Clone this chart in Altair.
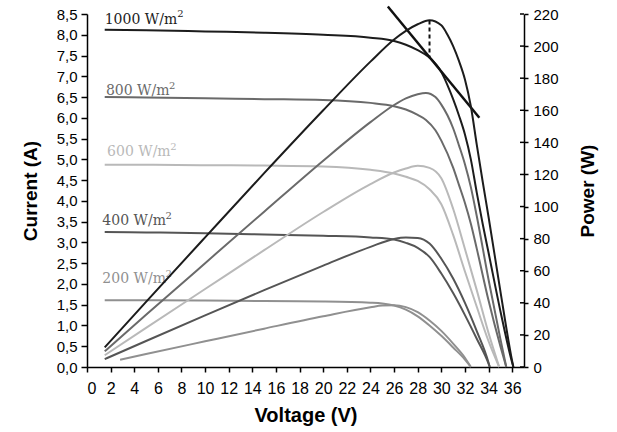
import altair as alt
import pandas as pd

levels = ["1000 W/m²", "800 W/m²", "600 W/m²", "400 W/m²", "200 W/m²"]
label_texts = ["1000 W/m", "800 W/m", "600 W/m", "400 W/m", "200 W/m"]
colors = ["#1c1c1c", "#6a6a6a", "#b9b9b9", "#555555", "#909090"]

# I-V curves (voltage V, current A)
v_1000 = [1.5, 5, 10, 15, 20, 24, 26, 27, 28, 29, 30, 30.5, 31, 31.5, 32, 32.5, 33, 33.5, 34, 35, 36, 36.1]
i_1000 = [8.12, 8.11, 8.08, 8.05, 8.00, 7.93, 7.85, 7.76, 7.63, 7.45, 7.10, 6.80, 6.45, 6.05, 5.60, 5.00, 4.20, 3.45, 2.75, 1.35, 0.10, 0.0]
p_1000 = [12.2, 40.6, 80.8, 120.8, 160.0, 190.3, 204.1, 209.5, 213.6, 216.1, 213.0, 207.4, 200.0, 190.6, 179.2, 162.5, 138.6, 115.6, 93.5, 47.3, 3.6, 0.0]

v_800 = [1.5, 5, 10, 15, 20, 24, 26, 27, 28, 28.7, 29.5, 30, 31, 31.5, 32, 32.5, 33, 34, 35, 35.5]
i_800 = [6.50, 6.49, 6.47, 6.45, 6.43, 6.36, 6.28, 6.20, 6.07, 5.95, 5.70, 5.45, 4.80, 4.38, 3.95, 3.45, 2.85, 1.60, 0.50, 0.0]
p_800 = [9.8, 32.5, 64.7, 96.8, 128.6, 152.6, 163.3, 167.4, 170.0, 170.8, 168.2, 163.5, 148.8, 138.0, 126.4, 112.1, 94.1, 54.4, 17.5, 0.0]

v_600 = [1.5, 5, 10, 15, 20, 24, 26, 27, 28, 29, 30, 31, 32, 33, 34, 34.9]
i_600 = [4.87, 4.87, 4.86, 4.85, 4.83, 4.75, 4.66, 4.58, 4.48, 4.28, 3.92, 3.18, 2.30, 1.45, 0.62, 0.0]
p_600 = [7.3, 24.4, 48.6, 72.8, 96.6, 114.0, 121.2, 123.7, 125.4, 124.1, 117.6, 98.6, 73.6, 47.9, 21.1, 0.0]

v_400 = [1.5, 5, 10, 15, 20, 24, 26, 27, 28, 29, 30, 31, 32, 33, 34, 34.1]
i_400 = [3.25, 3.24, 3.22, 3.19, 3.16, 3.12, 3.07, 2.99, 2.87, 2.65, 2.25, 1.78, 1.25, 0.68, 0.08, 0.0]
p_400 = [4.9, 16.2, 32.2, 47.9, 63.2, 74.9, 79.8, 80.7, 80.4, 76.9, 67.5, 55.2, 40.0, 22.4, 2.7, 0.0]

v_200 = [1.5, 5, 10, 15, 20, 24, 25, 26, 27, 28, 29, 30, 31, 32, 32.5]
i_200 = [1.61, 1.61, 1.60, 1.59, 1.58, 1.55, 1.53, 1.48, 1.38, 1.22, 1.00, 0.75, 0.47, 0.18, 0.0]
vp_200 = [2.8, 5, 10, 15, 20, 24, 25, 26, 27, 28, 29, 30, 31, 32, 32.5]
p_200 = [4.5, 8.05, 16.0, 23.9, 31.6, 37.2, 38.3, 38.5, 37.3, 34.2, 29.0, 22.5, 14.6, 5.8, 0.0]

# maximum power point tangent line (current scale) and dotted drop (power scale)
mpp_v = [25.47, 33.22]
mpp_i = [8.68, 6.0]
drop_v = [29.0]
drop_p_top = [216.0]
drop_p_bottom = [192.5]

# curve labels (text start, and the superscript 2)
label_v = [1.5, 1.6, 1.7, 1.3, 1.3]
label_i = [8.27, 6.55, 5.08, 3.42, 2.02]
sup_v = [7.65, 6.95, 7.05, 6.65, 6.65]
sup_i = [8.42, 6.70, 5.23, 3.57, 2.17]

current_ticks = [x / 2 for x in range(0, 18)]
power_ticks = list(range(0, 221, 20))
voltage_ticks = list(range(0, 37, 2))

iv_sets = [(v_1000, i_1000), (v_800, i_800), (v_600, i_600), (v_400, i_400), (v_200, i_200)]
pv_sets = [(v_1000, p_1000), (v_800, p_800), (v_600, p_600), (v_400, p_400), (vp_200, p_200)]

iv_rows, pv_rows = [], []
for g, (vs, ys) in zip(levels, iv_sets):
    for k, (v, y) in enumerate(zip(vs, ys)):
        iv_rows.append({"G": g, "V": v, "I": y, "o": k})
for g, (vs, ys) in zip(levels, pv_sets):
    for k, (v, y) in enumerate(zip(vs, ys)):
        pv_rows.append({"G": g, "V": v, "P": y, "o": k})
df_iv = pd.DataFrame(iv_rows)
df_pv = pd.DataFrame(pv_rows)
df_lab = pd.DataFrame({"G": levels, "T": label_texts, "V": label_v, "I": label_i})
df_sup = pd.DataFrame({"G": levels, "T": ["2"] * 5, "V": sup_v, "I": sup_i})
df_mpp = pd.DataFrame({"V": mpp_v, "I": mpp_i})
df_drop = pd.DataFrame({"V": drop_v, "P": drop_p_top, "P2": drop_p_bottom})
df_pt = pd.DataFrame({"P": power_ticks})

W, H = 437, 353
FONT = "Liberation Sans"

x_enc = alt.X("V:Q", scale=alt.Scale(domain=[0, 37], nice=False, zero=False),
              axis=alt.Axis(values=voltage_ticks, title="Voltage (V)", grid=False,
                            labelFont=FONT, labelFontSize=16, labelColor="black", labelPadding=8,
                            tickSize=5, tickColor="black", tickWidth=1.5,
                            domainColor="black", domainWidth=1.5,
                            titleFont=FONT, titleFontSize=20, titleFontWeight="bold", titleColor="black",
                            titleX=W / 2, titleY=48, titleBaseline="middle", titleAlign="center"))

cur_axis = alt.Axis(values=current_ticks, title="Current (A)", grid=False, orient="left",
                    labelExpr="replace(format(datum.value, '.1f'), '.', ',')",
                    labelFont=FONT, labelFontSize=15, labelColor="black", labelPadding=4,
                    tickSize=6, tickColor="black", tickWidth=1.5,
                    domainColor="black", domainWidth=1.5,
                    titleFont=FONT, titleFontSize=19, titleFontWeight="bold", titleColor="black",
                    titleX=-57, titleY=H / 2, titleAngle=-90, titleBaseline="middle", titleAlign="center")
cur_scale = alt.Scale(domain=[0, 8.5], nice=False, zero=True)
y_cur = alt.Y("I:Q", scale=cur_scale, axis=cur_axis)

pow_axis = alt.Axis(values=power_ticks, title="Power (W)", grid=False, orient="right",
                    labelFont=FONT, labelFontSize=15, labelColor="black", labelPadding=5,
                    tickSize=4, tickColor="black", tickWidth=1.5,
                    domainColor="black", domainWidth=1.5,
                    titleFont=FONT, titleFontSize=19, titleFontWeight="bold", titleColor="black",
                    titleX=63, titleY=H / 2, titleAngle=-90, titleBaseline="middle", titleAlign="center")
pow_scale = alt.Scale(domain=[0, 220], nice=False, zero=True)
y_pow = alt.Y("P:Q", scale=pow_scale, axis=pow_axis)

color = alt.Color("G:N", scale=alt.Scale(domain=levels, range=colors), legend=None)

iv_lines = alt.Chart(df_iv).mark_line(strokeWidth=2, interpolate="monotone").encode(
    x=x_enc, y=y_cur, color=color, order="o:Q")
labels = alt.Chart(df_lab).mark_text(font="DejaVu Serif", fontSize=14, align="left",
                                     baseline="alphabetic").encode(
    x=x_enc, y=y_cur, color=color, text="T:N")
sups = alt.Chart(df_sup).mark_text(font="DejaVu Serif", fontSize=10, align="left",
                                   baseline="alphabetic").encode(
    x=x_enc, y=y_cur, color=color, text="T:N")
mpp = alt.Chart(df_mpp).mark_line(strokeWidth=2.5, color="#111111").encode(x=x_enc, y=y_cur)

pv_lines = alt.Chart(df_pv).mark_line(strokeWidth=2, interpolate="monotone").encode(
    x=x_enc, y=y_pow, color=color, order="o:Q")
drop = alt.Chart(df_drop).mark_rule(strokeWidth=2, strokeDash=[4, 3], color="#111111").encode(
    x=x_enc, y=y_pow, y2="P2:Q")
inner_ticks = alt.Chart(df_pt).mark_rule(strokeWidth=1.5, color="black").encode(
    x=alt.value(W - 4), x2=alt.value(W), y=y_pow)

current_layer = alt.layer(iv_lines, labels, sups, mpp)
power_layer = alt.layer(pv_lines, drop, inner_ticks)

chart = alt.layer(current_layer, power_layer).resolve_scale(y="independent").properties(
    width=W, height=H,
    autosize=alt.AutoSizeParams(type="none"),
    padding={"left": 87, "top": 14, "right": 93, "bottom": 65},
    background="white",
).configure_view(stroke=None)

chart.save("out.html", embed_options={"renderer": "svg", "actions": False})
